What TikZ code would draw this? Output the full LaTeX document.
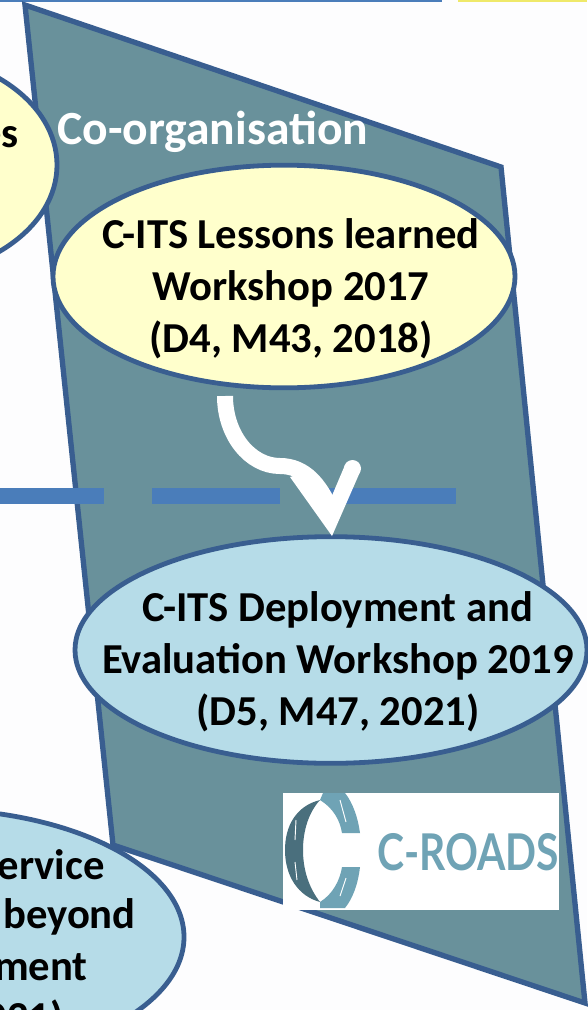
\documentclass[tikz,border=0pt]{standalone}
\usepackage{fontspec}
\setmainfont{Carlito}
\newfontfamily\logofont{Lato}
\usetikzlibrary{shapes.geometric}
\definecolor{pagebg}{HTML}{FDFDFE}
\definecolor{panel}{HTML}{69919B}
\definecolor{edge}{HTML}{395E90}
\definecolor{lineblue}{HTML}{4A7DBA}
\definecolor{paleyellow}{HTML}{FFFFCC}
\definecolor{paleblue}{HTML}{B6DCE8}
\definecolor{topyellow}{HTML}{EFE96A}
\definecolor{logodark}{HTML}{4A6F7D}
\definecolor{logolight}{HTML}{6FA3B5}
\tikzset{
  bubble/.style={ellipse,draw=edge,line width=3.6pt,inner sep=0pt},
  bubbletext/.style={inner sep=0pt,align=center,font=\fontsize{32}{39}\selectfont\bfseries,text=black},
  cuttext/.style={anchor=east,inner sep=0pt,font=\fontsize{32}{39}\selectfont\bfseries,text=black},
  flowline/.style={draw=white,line width=12pt},
}
\begin{document}
\begin{tikzpicture}[x=0.75pt,y=-0.75pt]
\useasboundingbox (0,0) rectangle (587,1010);
\fill[pagebg] (0,0) rectangle (587,1010);
\fill[lineblue] (0,0) rectangle (442,2);
\fill[topyellow] (458,0) rectangle (587,2);
% panel
\draw[fill=panel,draw=edge,line width=4pt,line join=miter] (25,5) -- (501,167) -- (585,1003) -- (113,845) -- cycle;
% dashed band
\coordinate (bandL) at (-24,496);
\coordinate (bandR) at (456,496);
\draw[lineblue,line width=12pt,dash pattern=on 96pt off 36pt] (bandL) -- (bandR);
% bubbles
\node[bubble,fill=paleyellow,minimum width=237pt,minimum height=168pt] (left) at (-101,165) {};
\node[cuttext] (lefttext) at (19,137) {es};
\node[anchor=west,inner sep=0pt,text=white,font=\fontsize{35.7}{39}\selectfont\bfseries] (coorg) at (57,132) {Co-organisation};
\node[bubble,fill=paleyellow,minimum width=346.5pt,minimum height=167pt] (lessons) at (284,276.5) {};
\node[bubbletext] (lessonstext) at (291,289) {C-ITS Lessons learned\\Workshop 2017\\(D4, M43, 2018)};
\node[bubble,fill=paleblue,minimum width=384pt,minimum height=170pt] (deploy) at (331,650) {};
\node[bubbletext] (deploytext) at (338,662) {C-ITS Deployment and\\Evaluation Workshop 2019\\(D5, M47, 2021)};
\node[bubble,fill=paleblue,minimum width=381pt,minimum height=192pt] (service) at (-70,937) {};
\node[cuttext] (s1) at (105,865) {ervice};
\node[cuttext] (s2) at (136,917) {beyond};
\node[cuttext] (s3) at (88,967) {ment};
\node[cuttext] (s4) at (64,1019) {021)};
% connector
\coordinate (flowstart) at (225,396);
\coordinate (flowmid) at (280,466);
\coordinate (flowtip) at (332,536);
\draw[flowline] (flowstart) .. controls (225,435) and (250,466) .. (flowmid) .. controls (305,466) and (320,485) .. (331,510);
\fill[white,line join=round] (flowtip) -- (290,477) -- (313,470) -- (331,498) -- (345,465) -- (360,472) -- cycle;
\fill[white] (352.5,468.5) circle (8.5);
% logo
\fill[white] (283,793) rectangle (559,910);
\fill[logodark] (320,800) .. controls (296,806) and (285,826) .. (285,850) .. controls (285,876) and (298,896) .. (320,902)
  .. controls (309,888) and (303,870) .. (303,850) .. controls (303,830) and (309,812) .. (320,800) -- cycle;
\fill[logolight] (323,793) -- (345,793) .. controls (353,803) and (358,818) .. (360,833) -- (342,833) .. controls (340,820) and (333,808) .. (320,800) -- cycle;
\fill[logolight] (320,908) -- (345,908) .. controls (353,898) and (358,884) .. (360,867) -- (342,867) .. controls (340,880) and (333,894) .. (320,902) -- cycle;
\draw[white,line width=0.7pt] (296,820) -- (295,840) (295,862) -- (297,880);
\draw[white,line width=0.7pt] (340,800) -- (346,822) (346,878) -- (340,896);
\node[anchor=west,inner sep=0pt,text=logolight,font=\fontsize{38}{39}\selectfont\logofont\bfseries] (logotext) at (377,852) {\scalebox{0.805}[1]{C-ROADS}};
\end{tikzpicture}
\end{document}
